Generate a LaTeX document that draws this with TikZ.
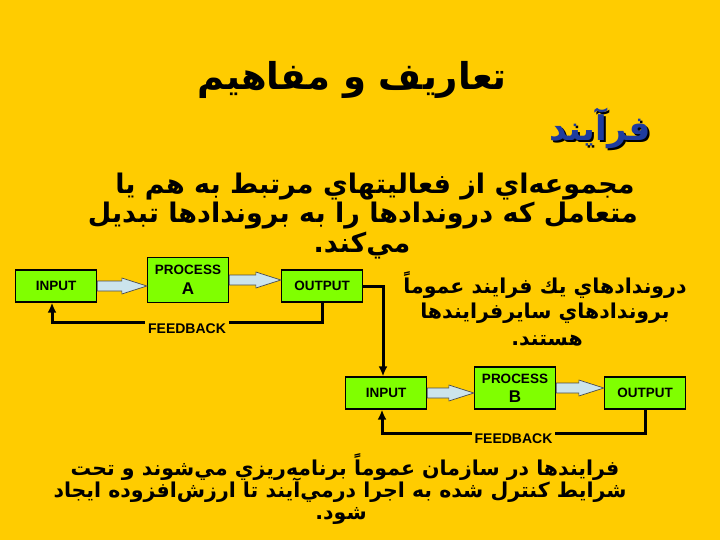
\documentclass[tikz,border=0pt]{standalone}
\usepackage{fontspec}
\setmainfont{Liberation Sans}
\newfontfamily\arabicfont[Script=Arabic]{DejaVu Sans}
\TeXXeTstate=1
\usetikzlibrary{arrows.meta, positioning, calc}
\definecolor{slidegold}{HTML}{FFCC00}
\definecolor{boxgreen}{HTML}{80FF00}
\definecolor{arrowblue}{HTML}{CCE4EC}
\definecolor{titleblue}{HTML}{1F3C9E}
\newcommand\rtl[1]{\beginR #1\endR}
\newcommand\fatarrow[2]{%
  \draw[fatarrow] let \p1=(#1.east), \p2=(#2.west) in
    (\x1,\y1+5pt) -- (\x2-25pt,\y1+5pt) -- (\x2-25pt,\y1+8pt) -- (\x2,\y1)
    -- (\x2-25pt,\y1-8pt) -- (\x2-25pt,\y1-5pt) -- (\x1,\y1-5pt) -- cycle;}

\begin{document}
\begin{tikzpicture}[x=1pt, y=-1pt,
      stage/.style={rectangle, draw=black, line width=1.3pt, fill=boxgreen, inner sep=0pt,
        minimum width=81pt, minimum height=32pt, align=center, font=\bfseries\fontsize{13.5}{14}\selectfont},
      fatarrow/.style={draw=gray!60!black, fill=arrowblue, line width=0.7pt},
      feedback/.style={line width=3pt, -{Latex[length=10pt, width=9pt]}},
      fblabel/.style={fill=slidegold, inner sep=3pt, font=\bfseries\fontsize{14}{15}\selectfont},
      farsi/.style={font=\arabicfont\bfseries\fontsize{#1}{#1}\selectfont, inner sep=0pt}]

      \fill[slidegold] (0,0) rectangle (720,540);

      % Titles
      \node[farsi=37] (title) at (352,80) {\rtl{تعاريف و مفاهيم}};
      \node[farsi=34, text=black] (shadow) at (602,130) {\rtl{فرآيند}};
      \node[farsi=34, text=titleblue] (process) at (600,128) {\rtl{فرآيند}};

      % Definition
      \node[farsi=27] (defA) at (375,187) {\rtl{مجموعه‌اي از فعاليتهاي مرتبط به هم يا}};
      \node[farsi=27] (defB) at (363,216) {\rtl{متعامل كه دروندادها را به بروندادها تبديل}};
      \node[farsi=27] (defC) at (362,246) {\rtl{مي‌كند.}};

      % Process A
      \node[stage] (inA) at (56,286) {INPUT};
      \node[stage, minimum height=45pt] (procA) at (188,280) {PROCESS\\[6pt]{\fontsize{17}{18}\selectfont A}};
      \node[stage] (outA) at (322,286) {OUTPUT};

      % Process B
      \node[stage] (inB) at (386,393) {INPUT};
      \node[stage, minimum height=42pt] (procB) at (515,388) {PROCESS\\[5pt]{\fontsize{17}{18}\selectfont B}};
      \node[stage] (outB) at (645,393) {OUTPUT};

      % Arrows
      \fatarrow{inA}{procA}
      \fatarrow{procA}{outA}
      \fatarrow{inB}{procB}
      \fatarrow{procB}{outB}

      \draw[feedback] (outA.south) -- ++(0,20) coordinate (fbA)
        -- ($(fbA -| inA.south)+(-4,0)$) node[pos=0.5, fblabel, yshift=-6pt] {FEEDBACK}
        -- ($(inA.south)+(-4,0)$);
      \draw[feedback] (outB.south) -- ++(0,24) coordinate (fbB)
        -- ($(fbB -| inB.south)+(-4,0)$) node[pos=0.5, fblabel, yshift=-5pt] {FEEDBACK}
        -- ($(inB.south)+(-4,0)$);
      \draw[feedback] (outA.east) -| ($(inB.north)+(-3,0)$);

      % Notes
      \node[farsi=20.5] (linkA) at (545,285) {\rtl{دروندادهاي يك فرايند عموماً}};
      \node[farsi=20.5] (linkB) at (545,313) {\rtl{بروندادهاي سايرفرايندها}};
      \node[farsi=20.5] (linkC) at (547,341) {\rtl{هستند.}};

      \node[farsi=20.5] (planA) at (345,467) {\rtl{فرايندها در سازمان عموماً برنامه‌ريزي مي‌شوند و تحت}};
      \node[farsi=20.5] (planB) at (340,490) {\rtl{شرايط كنترل شده به اجرا درمي‌آيند تا ارزش‌افزوده ايجاد}};
      \node[farsi=20.5] (planC) at (341,516) {\rtl{شود.}};
\end{tikzpicture}
\end{document}
